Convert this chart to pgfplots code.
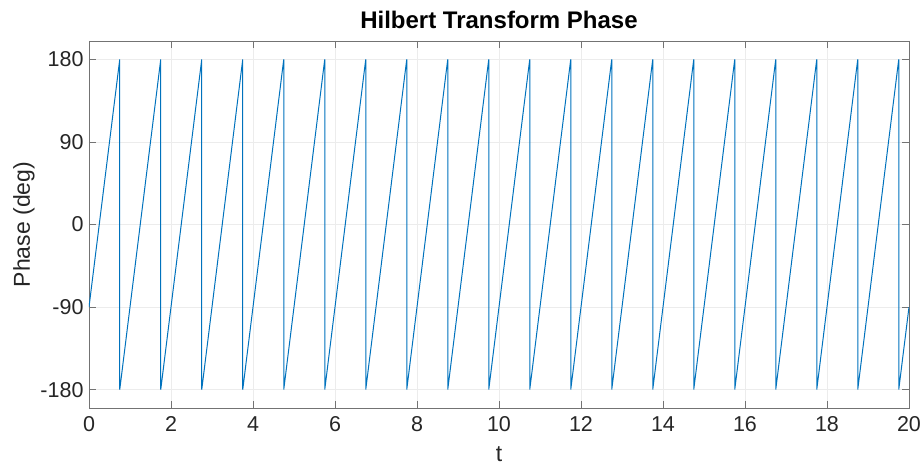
\documentclass[border=0pt]{standalone}
\usepackage{fontspec}
\setmainfont{Liberation Sans}
\usepackage{pgfplots}
\pgfplotsset{compat=1.18}
\definecolor{mblue}{rgb}{0,0.447,0.741}
\definecolor{axgray}{gray}{0.45}
\definecolor{txt}{gray}{0.15}

\begin{document}
\begin{tikzpicture}[x=1pt,y=1pt]
\path[use as bounding box] (0,0) rectangle (922,465);
\begin{axis}[
    at={(89pt,57pt)}, anchor=south west,
    scale only axis,
    width=820pt, height=367pt,
    xmin=0, xmax=20, ymin=-200, ymax=200,
    xtick={0,2,...,20},
    ytick={-180,-90,0,90,180},
    tick align=inside,
    major tick length=7pt,
    grid=major,
    grid style={gray!15, line width=0.6pt},
    axis line style={axgray, line width=0.8pt},
    every tick/.style={axgray, line width=0.8pt},
    ticklabel style={font=\fontsize{21.5}{25}\selectfont, text=txt},
    xticklabel style={yshift=-5pt},
    yticklabel style={xshift=-2pt},
    /pgf/number format/assume math mode=true,
    xlabel={t}, ylabel={Phase (deg)},
    label style={font=\fontsize{23}{26}\selectfont, text=txt},
    xlabel style={yshift=-8pt},
    ylabel style={yshift=-1pt},
    title={Hilbert Transform Phase},
    title style={font=\bfseries\fontsize{24}{28}\selectfont, yshift=3pt},
]
\addplot[mblue, line width=1pt] coordinates {
    (0,-90) (0.75,180) (0.75,-180)
    (1.75,180) (1.75,-180)
    (2.75,180) (2.75,-180)
    (3.75,180) (3.75,-180)
    (4.75,180) (4.75,-180)
    (5.75,180) (5.75,-180)
    (6.75,180) (6.75,-180)
    (7.75,180) (7.75,-180)
    (8.75,180) (8.75,-180)
    (9.75,180) (9.75,-180)
    (10.75,180) (10.75,-180)
    (11.75,180) (11.75,-180)
    (12.75,180) (12.75,-180)
    (13.75,180) (13.75,-180)
    (14.75,180) (14.75,-180)
    (15.75,180) (15.75,-180)
    (16.75,180) (16.75,-180)
    (17.75,180) (17.75,-180)
    (18.75,180) (18.75,-180)
    (19.75,180) (19.75,-180)
    (20,-90)
};
\end{axis}
\end{tikzpicture}
\end{document}
